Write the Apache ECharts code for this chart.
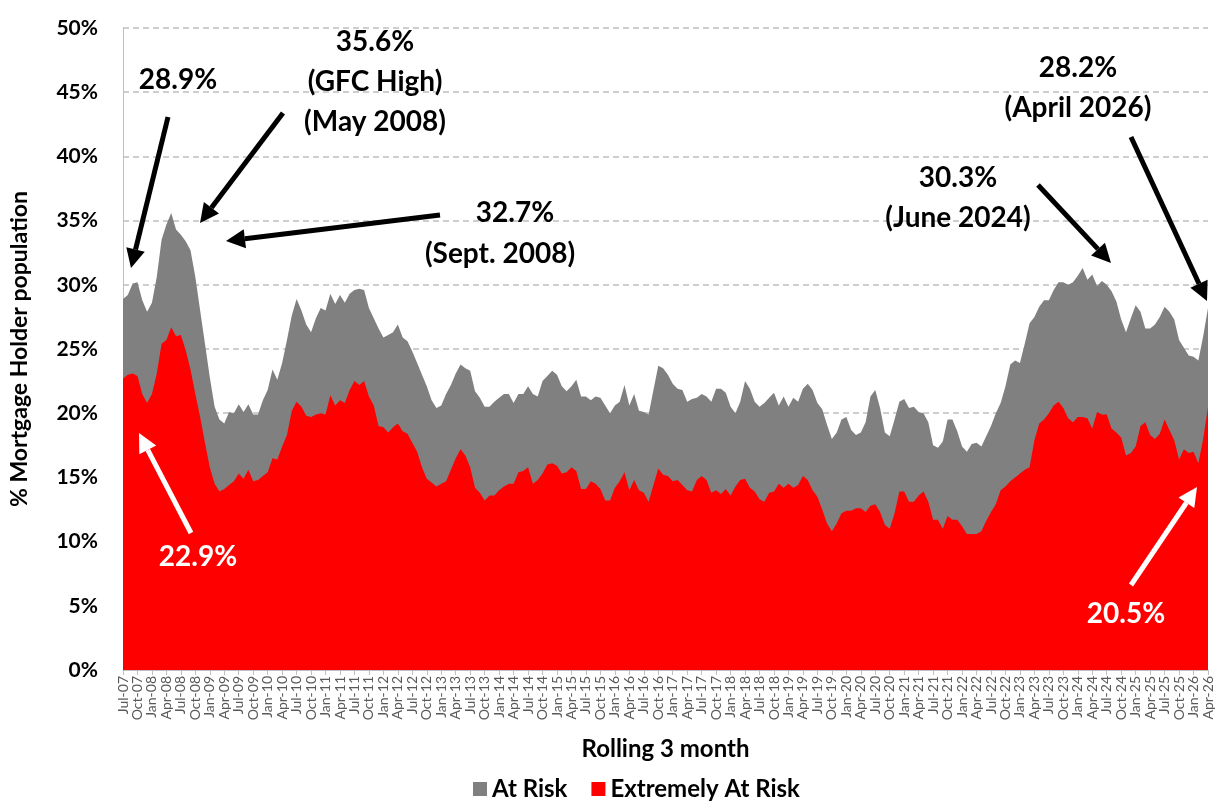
<!DOCTYPE html>
<html>
<head>
<meta charset="utf-8">
<script src="https://cdn.jsdelivr.net/npm/echarts@6/dist/echarts.min.js"></script>
<style>
html, body { margin: 0; padding: 0; background: #fff; }
#main { width: 1215px; height: 802px; }
</style>
</head>
<body>
<div id="main"></div>
<script>
// monthly rolling 3 month series, Jul-07 .. Apr-26
var firstYear = 2007, firstMonth = 6; // Jul
var monthNames = ['Jan', 'Feb', 'Mar', 'Apr', 'May', 'Jun', 'Jul', 'Aug', 'Sep', 'Oct', 'Nov', 'Dec'];
var yTicks = [0, 5, 10, 15, 20, 25, 30, 35, 40, 45, 50];

// % at risk (includes extremely at risk)
var atRisk = [
    28.9, 29.2, 30.1, 30.2, 28.8, 27.9, 28.6, 30.6, 33.5, 34.7,
    35.6, 34.3, 33.9, 33.4, 32.7, 30.6, 28.0, 25.4, 22.8, 20.5,
    19.5, 19.2, 20.1, 20.0, 20.7, 20.1, 20.7, 19.9, 19.9, 21.0,
    21.8, 23.4, 22.6, 23.9, 25.7, 27.6, 28.9, 28.0, 26.9, 26.3,
    27.4, 28.2, 28.0, 29.3, 28.5, 29.2, 28.6, 29.3, 29.6, 29.7,
    29.6, 28.2, 27.4, 26.6, 25.9, 26.1, 26.3, 26.9, 25.9, 25.6,
    24.8, 23.9, 23.0, 22.1, 21.0, 20.4, 20.6, 21.5, 22.2, 23.1,
    23.8, 23.5, 23.3, 21.7, 21.2, 20.5, 20.5, 20.9, 21.2, 21.5,
    21.5, 20.8, 21.5, 21.5, 22.1, 21.5, 21.3, 22.5, 22.9, 23.3,
    23.0, 22.1, 21.7, 22.1, 22.6, 21.3, 21.3, 21.0, 21.3, 21.2,
    20.6, 20.0, 20.6, 20.9, 22.2, 20.6, 21.5, 20.2, 20.1, 19.9,
    21.8, 23.7, 23.5, 23.0, 22.3, 21.9, 21.8, 20.9, 21.1, 21.2,
    21.5, 21.3, 20.9, 21.9, 21.9, 21.6, 20.5, 20.0, 20.9, 22.5,
    21.9, 20.9, 20.5, 20.8, 21.2, 21.6, 20.6, 21.3, 20.5, 21.2,
    20.9, 21.9, 22.3, 21.8, 20.8, 20.3, 19.1, 18.0, 18.5, 19.5,
    19.7, 18.7, 18.3, 18.5, 19.3, 21.3, 21.8, 20.4, 18.5, 18.2,
    19.5, 20.9, 21.1, 20.4, 20.5, 20.1, 20.0, 19.3, 17.5, 17.3,
    17.8, 19.5, 19.5, 18.6, 17.4, 17.0, 17.6, 17.7, 17.4, 18.2,
    19.0, 20.0, 20.8, 22.1, 23.8, 24.1, 23.9, 25.4, 27.0, 27.5,
    28.3, 28.8, 28.8, 29.6, 30.2, 30.2, 30.0, 30.2, 30.7, 31.3,
    30.4, 30.8, 29.9, 30.3, 30.0, 29.5, 28.7, 27.3, 26.3, 27.4,
    28.4, 27.9, 26.6, 26.6, 26.9, 27.5, 28.3, 27.9, 27.3, 25.7,
    25.1, 24.5, 24.4, 24.1, 26.0, 28.2
];

// % extremely at risk
var extremelyAtRisk = [
    22.7, 23.0, 23.1, 22.9, 21.5, 20.8, 21.5, 23.1, 25.4, 25.7,
    26.7, 26.0, 26.1, 24.9, 23.4, 21.5, 19.7, 17.7, 15.8, 14.5,
    13.9, 14.1, 14.4, 14.7, 15.3, 14.9, 15.6, 14.7, 14.8, 15.1,
    15.4, 16.5, 16.4, 17.4, 18.3, 20.2, 20.9, 20.5, 19.8, 19.7,
    19.9, 20.0, 19.9, 21.4, 20.6, 21.0, 20.8, 21.8, 22.5, 22.2,
    22.5, 21.3, 20.6, 19.0, 18.9, 18.5, 18.9, 19.2, 18.6, 18.4,
    17.7, 17.0, 15.8, 14.9, 14.6, 14.3, 14.5, 14.7, 15.6, 16.5,
    17.2, 16.7, 15.8, 14.2, 13.8, 13.2, 13.6, 13.6, 14.0, 14.3,
    14.5, 14.5, 15.4, 15.5, 15.8, 14.5, 14.8, 15.3, 16.0, 16.1,
    15.9, 15.3, 15.4, 15.8, 15.5, 14.1, 14.1, 14.7, 14.5, 14.1,
    13.2, 13.2, 14.2, 14.7, 15.4, 14.0, 14.8, 14.0, 13.8, 13.1,
    14.4, 15.7, 15.2, 15.1, 14.7, 14.8, 14.4, 14.0, 13.9, 14.8,
    15.1, 14.8, 13.8, 14.0, 13.7, 14.1, 13.6, 14.3, 14.8, 14.9,
    14.2, 13.9, 13.3, 13.1, 13.8, 13.9, 14.5, 14.2, 14.5, 14.2,
    14.4, 15.1, 14.8, 14.0, 13.5, 12.5, 11.4, 10.8, 11.4, 12.2,
    12.4, 12.4, 12.6, 12.6, 12.3, 12.8, 12.9, 12.3, 11.3, 11.0,
    12.2, 13.9, 13.9, 13.1, 13.1, 13.6, 13.9, 13.1, 11.7, 11.7,
    11.0, 12.0, 11.7, 11.7, 11.2, 10.6, 10.6, 10.6, 10.8, 11.6,
    12.3, 12.9, 14.0, 14.3, 14.7, 15.0, 15.3, 15.6, 15.8, 17.9,
    19.2, 19.5, 20.0, 20.6, 20.9, 20.4, 19.6, 19.3, 19.7, 19.7,
    19.6, 18.8, 20.1, 19.9, 19.9, 18.8, 18.5, 18.1, 16.7, 16.9,
    17.4, 19.0, 19.3, 18.3, 18.0, 18.4, 19.5, 18.7, 17.9, 16.4,
    17.2, 16.9, 17.0, 16.1, 18.0, 20.5
];

var categories = [];
for (var i = 0; i < atRisk.length; i++) {
    var m = (firstMonth + i) % 12;
    var y = firstYear + Math.floor((firstMonth + i) / 12);
    categories.push(monthNames[m] + '-' + String(y % 100).padStart(2, '0'));
}

var FONT = 'Lato';

// callouts: text lines + arrows (pixel positions of the annotation layer)
var notes = [
    { x: 178, y: 80, lines: ['28.9%'], color: '#000' },
    { x: 375, y: 42, lines: ['35.6%', '(GFC High)', '(May 2008)'], color: '#000' },
    { x: 515, y: 213, lines: ['32.7%'], color: '#000' },
    { x: 500, y: 254, lines: ['(Sept. 2008)'], color: '#000' },
    { x: 958, y: 178, lines: ['30.3%', '(June 2024)'], color: '#000' },
    { x: 1078, y: 68, lines: ['28.2%', '(April 2026)'], color: '#000' },
    { x: 198, y: 557, lines: ['22.9%'], color: '#fff' },
    { x: 1126, y: 614, lines: ['20.5%'], color: '#fff' }
];
var arrows = [
    [168, 117, 131, 268, '#000'],
    [283, 113, 200, 223, '#000'],
    [440, 215, 226, 241, '#000'],
    [1038, 185, 1111, 263, '#000'],
    [1131, 137, 1207, 301, '#000'],
    [191, 533, 139, 433, '#fff'],
    [1131, 585, 1197, 487, '#fff']
];

function $each(arr, fn) { for (var i = 0; i < arr.length; i++) fn(arr[i], i); }

function arrowGraphic(a) {
    var x1 = a[0], y1 = a[1], x2 = a[2], y2 = a[3], c = a[4];
    var ang = Math.atan2(y2 - y1, x2 - x1);
    var hl = 19, hw = 9.5;
    var bx = x2 - hl * Math.cos(ang), by = y2 - hl * Math.sin(ang);
    var px = -Math.sin(ang) * hw, py = Math.cos(ang) * hw;
    return [
        { type: 'line', shape: { x1: x1, y1: y1, x2: bx, y2: by }, style: { stroke: c, lineWidth: 5 }, z: 100 },
        { type: 'polygon', shape: { points: [[x2, y2], [bx + px, by + py], [bx - px, by - py]] }, style: { fill: c }, z: 100 }
    ];
}

var graphics = [];
$each(arrows, function (a) { graphics = graphics.concat(arrowGraphic(a)); });
$each(notes, function (n) {
    $each(n.lines, function (t, k) {
        graphics.push({
            type: 'text', x: n.x, y: n.y + k * 40, z: 101,
            style: { text: t, fill: n.color, font: 'bold 28px ' + FONT, textAlign: 'center', textVerticalAlign: 'middle' }
        });
    });
});

var option = {
    animation: false,
    backgroundColor: '#fff',
    color: ['#808080', '#ff0000'],
    grid: { left: 123, right: 2, top: 28, bottom: 132 },
    legend: {
        bottom: -4,
        left: 468,
        itemGap: 24,
        itemWidth: 14,
        itemHeight: 14,
        icon: 'rect',
        textStyle: { fontFamily: FONT, fontWeight: 'bold', fontSize: 24, color: '#000' },
        data: ['At Risk', 'Extremely At Risk']
    },
    xAxis: {
        type: 'category',
        data: categories,
        boundaryGap: false,
        name: 'Rolling 3 month',
        nameLocation: 'middle',
        nameGap: 67,
        nameTextStyle: { fontFamily: FONT, fontWeight: 'bold', fontSize: 24, color: '#000' },
        axisLine: { lineStyle: { color: '#bfbfbf', width: 1 } },
        axisTick: { interval: 2, length: 5, lineStyle: { color: '#bfbfbf' } },
        axisLabel: {
            interval: 2, rotate: 90, fontFamily: FONT, fontSize: 14, color: '#595959', margin: 6,
            showMinLabel: true, showMaxLabel: true, hideOverlap: false
        },
        splitLine: { show: false }
    },
    yAxis: {
        type: 'value',
        min: 0,
        max: 50,
        interval: 5,
        name: '% Mortgage Holder population',
        nameLocation: 'middle',
        nameGap: 92,
        nameTextStyle: { fontFamily: FONT, fontWeight: 'bold', fontSize: 23, color: '#000' },
        axisLine: { show: true, lineStyle: { color: '#bfbfbf' } },
        axisTick: { show: false },
        axisLabel: {
            fontFamily: FONT, fontWeight: 'bold', fontSize: 21, color: '#000', margin: 25,
            formatter: function (v) { return yTicks.indexOf(v) >= 0 ? v + '%' : ''; }
        },
        splitLine: { lineStyle: { color: '#bfbfbf', type: [6, 4], width: 1.5 } }
    },
    series: [
        {
            name: 'At Risk', type: 'line', data: atRisk, symbol: 'none',
            lineStyle: { width: 0 }, areaStyle: { color: '#808080', opacity: 1 }, z: 2
        },
        {
            name: 'Extremely At Risk', type: 'line', data: extremelyAtRisk, symbol: 'none',
            lineStyle: { width: 0 }, areaStyle: { color: '#ff0000', opacity: 1 }, z: 3
        }
    ],
    graphic: graphics
};

var chart = echarts.init(document.getElementById('main'));
chart.setOption(option);
</script>
</body>
</html>
